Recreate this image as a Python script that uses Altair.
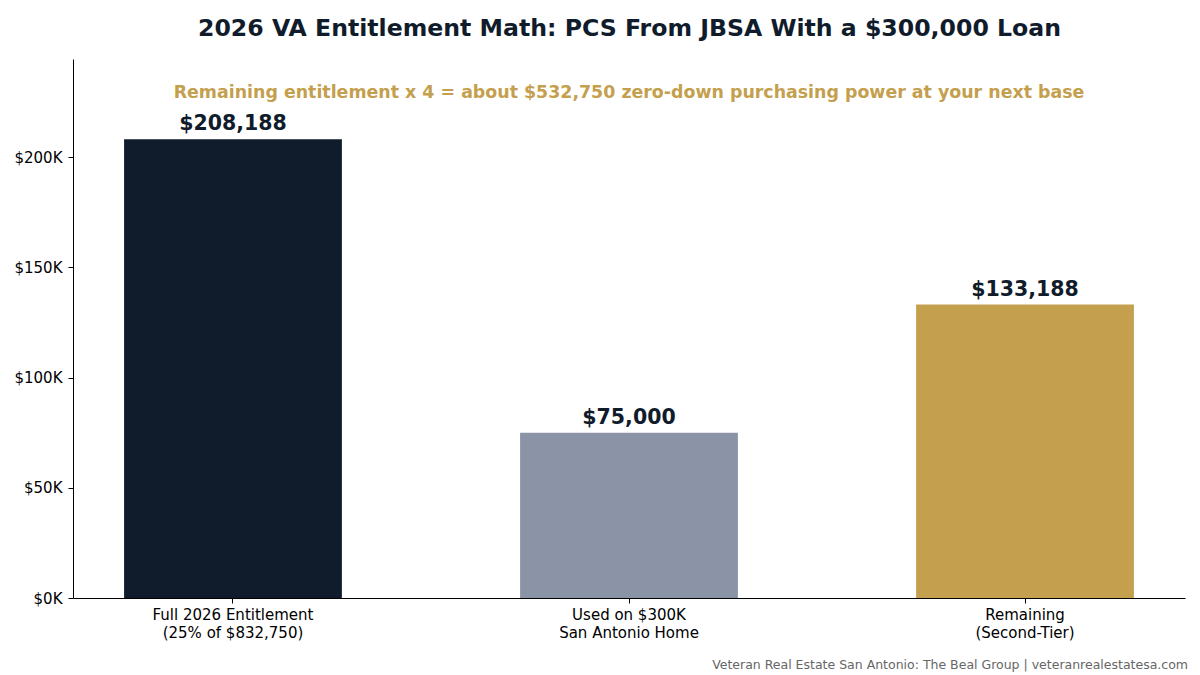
import altair as alt
import pandas as pd

# Entitlement breakdown
categories = [
    "Full 2026 Entitlement\n(25% of $832,750)",
    "Used on $300K\nSan Antonio Home",
    "Remaining\n(Second-Tier)",
]
amounts = [208188, 75000, 133188]
value_labels = ["$208,188", "$75,000", "$133,188"]
bar_colors = ["#101C2B", "#8B93A6", "#C49F4E"]

title_text = "2026 VA Entitlement Math: PCS From JBSA With a $300,000 Loan"
subtitle_text = "Remaining entitlement x 4 = about $532,750 zero-down purchasing power at your next base"
footer_text = "Veteran Real Estate San Antonio: The Beal Group | veteranrealestatesa.com"

FONT = "DejaVu Sans"
W, H = 1112, 539

df = pd.DataFrame({
    "category": categories,
    "amount": amounts,
    "label": value_labels,
    "color": bar_colors,
})

x_enc = alt.X(
    "category:N",
    sort=categories,
    title=None,
    scale=alt.Scale(paddingInner=0.45, paddingOuter=0.129),
    axis=alt.Axis(
        labelAngle=0,
        labelExpr="split(datum.label, '\\n')",
        labelFont=FONT,
        labelFontSize=15,
        labelColor="#000000",
        labelPadding=4,
        labelLineHeight=18,
        tickSize=5,
        tickColor="#000000",
        domainColor="#000000",
        labelBaseline="top",
    ),
)
y_enc = alt.Y(
    "amount:Q",
    title=None,
    scale=alt.Scale(domain=[0, 244600], nice=False),
    axis=alt.Axis(
        values=[0, 50000, 100000, 150000, 200000],
        labelExpr="'$' + format(datum.value / 1000, '.0f') + 'K'",
        labelFont=FONT,
        labelFontSize=15,
        labelColor="#000000",
        labelPadding=6,
        tickSize=5,
        tickColor="#000000",
        domainColor="#000000",
        grid=False,
    ),
)

bars = alt.Chart(df).mark_bar().encode(
    x=x_enc,
    y=y_enc,
    color=alt.Color("color:N", scale=None, legend=None),
)

bar_text = alt.Chart(df).mark_text(
    font=FONT, fontSize=20.5, fontWeight="bold", color="#101C2B",
    baseline="alphabetic", dy=-9,
).encode(
    x=alt.X("category:N", sort=categories),
    y=alt.Y("amount:Q"),
    text="label:N",
)

notes = pd.DataFrame({"t": [0]})
title_mark = alt.Chart(notes).mark_text(
    font=FONT, fontSize=23.6, fontWeight="bold", color="#101C2B", baseline="middle", align="center",
).encode(x=alt.value(W / 2 + 0.5), y=alt.value(-30), text=alt.value(title_text))

subtitle_mark = alt.Chart(notes).mark_text(
    font=FONT, fontSize=17.4, fontWeight="bold", color="#C49F4E", baseline="middle", align="center",
).encode(x=alt.value(W / 2), y=alt.value(34), text=alt.value(subtitle_text))

footer_mark = alt.Chart(notes).mark_text(
    font=FONT, fontSize=12.5, color="#666666", baseline="middle", align="right",
).encode(x=alt.value(1115), y=alt.value(606), text=alt.value(footer_text))

chart = alt.layer(bars, bar_text, title_mark, subtitle_mark, footer_mark).properties(
    width=W,
    height=H,
    autosize=alt.AutoSizeParams(type="none"),
    padding={"left": 73, "top": 59, "right": 15, "bottom": 77},
    background="#FFFFFF",
).configure_view(
    stroke=None,
)

chart.save("out.html", embed_options={"renderer": "svg", "actions": False})
